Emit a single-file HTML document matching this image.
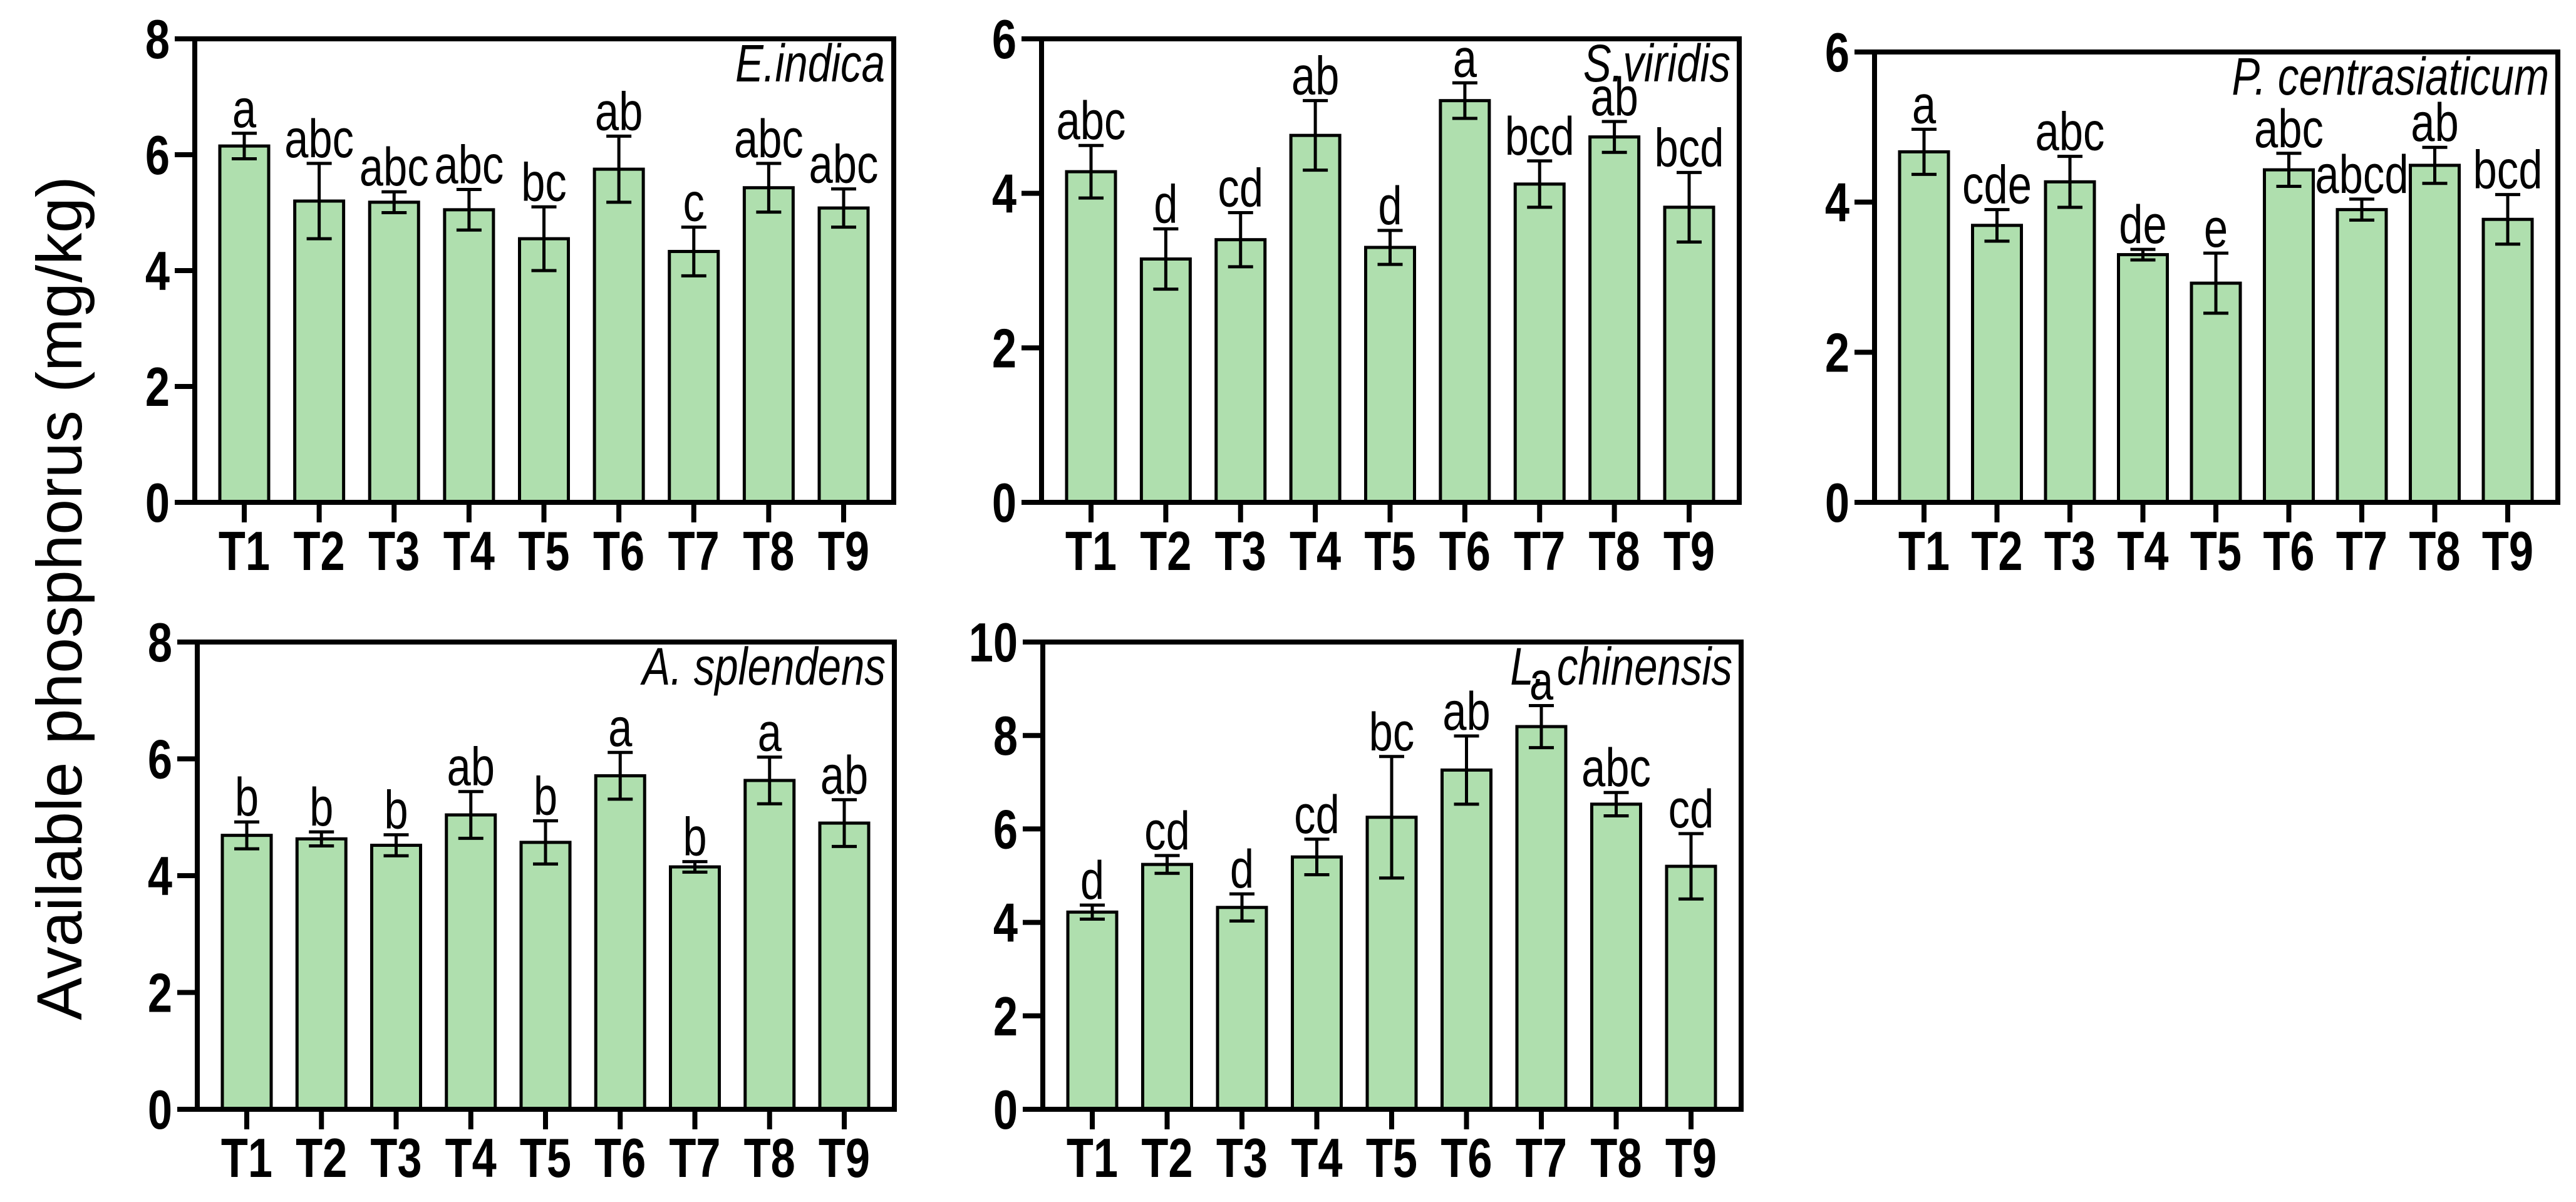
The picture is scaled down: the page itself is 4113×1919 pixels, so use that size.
<!DOCTYPE html>
<html><head><meta charset="utf-8">
<style>
html,body{margin:0;padding:0;background:#fff;}
svg{display:block;}
text{font-family:"Liberation Sans",Arial,sans-serif;}
</style></head>
<body>
<svg id="fig" width="4113" height="1919" viewBox="0 0 4113 1919" xmlns="http://www.w3.org/2000/svg">
<text x="0" y="0" transform="translate(130,955) rotate(-90)" text-anchor="middle" font-size="102">Available phosphorus (mg/kg)</text>
</svg>
<script>
const categories = ["T1","T2","T3","T4","T5","T6","T7","T8","T9"];
const eindicaMeans = [6.15,5.2,5.18,5.05,4.55,5.75,4.33,5.43,5.08];
const eindicaErr = [0.22,0.65,0.18,0.35,0.55,0.57,0.42,0.42,0.33];
const eindicaLetters = ["a","abc","abc","abc","bc","ab","c","abc","abc"];
const sviridisMeans = [4.28,3.15,3.40,4.75,3.30,5.2,4.12,4.73,3.82];
const sviridisErr = [0.34,0.39,0.35,0.45,0.22,0.23,0.3,0.2,0.45];
const sviridisLetters = ["abc","d","cd","ab","d","a","bcd","ab","bcd"];
const pcentMeans = [4.67,3.69,4.27,3.30,2.92,4.43,3.9,4.49,3.77];
const pcentErr = [0.3,0.21,0.34,0.07,0.4,0.22,0.14,0.24,0.33];
const pcentLetters = ["a","cde","abc","de","e","abc","abcd","ab","bcd"];
const asplMeans = [4.69,4.63,4.52,5.04,4.57,5.71,4.15,5.63,4.9];
const asplErr = [0.23,0.12,0.18,0.4,0.37,0.4,0.09,0.4,0.4];
const asplLetters = ["b","b","b","ab","b","a","b","a","ab"];
const lchinMeans = [4.22,5.24,4.32,5.40,6.25,7.26,8.19,6.53,5.2];
const lchinErr = [0.15,0.19,0.29,0.38,1.3,0.73,0.45,0.25,0.7];
const lchinLetters = ["d","cd","d","cd","bc","ab","a","abc","cd"];
const ticks8 = [0,2,4,6,8];
const ticks6 = [0,2,4,6];
const ticks10 = [0,2,4,6,8,10];

const NS = "http://www.w3.org/2000/svg";
const svg = document.getElementById("fig");
const SX = 0.8;
function mk(tag, attrs, parent){
  const e = document.createElementNS(NS, tag);
  for (const k in attrs) e.setAttribute(k, attrs[k]);
  (parent||svg).appendChild(e);
  return e;
}
function txt(parent, x, y, str, anchor, size, extra){
  const a = {x: 0, y: 0, transform: `translate(${x},${y}) scale(${SX},1)`, "text-anchor": anchor, "font-size": size};
  for (const k in extra) a[k] = extra[k];
  const t = mk("text", a, parent);
  t.textContent = str;
  return t;
}
function panel(id, L, R, T, B, ymax, ticks, means, errs, letters, species){
  const g = mk("g", {});
  
  
  const y = v => B - (v / ymax) * (B - T);
  const first = L + 79, last = R - 80, step = (last - first) / (categories.length - 1);
  const x = i => first + i * step;
  const bw = 78;
  means.forEach((m, i) => {
    const r = mk("rect", {x: x(i) - bw/2, y: y(m), width: bw, height: B - y(m), fill: "#afdfae", stroke: "#000", "stroke-width": 5}, g);
    
    
    const top = y(m + errs[i]), bot = y(m - errs[i]);
    const eb = mk("path", {d: `M${x(i)},${top}V${bot}M${x(i)-20},${top}H${x(i)+20}M${x(i)-20},${bot}H${x(i)+20}`, stroke: "#000", "stroke-width": 5, fill: "none"}, g);
    
    
    const t = txt(g, x(i), top - 10, letters[i], "middle", 86, {});
    
    
    const tk = mk("line", {x1: x(i), x2: x(i), y1: B, y2: B + 32, stroke: "#000", "stroke-width": 8}, g);
    
    
    const xl = txt(g, x(i), B + 108, categories[i], "middle", 88, {"font-weight": "bold"});
    
    
  });
  ticks.forEach(v => {
    const tk = mk("line", {x1: L - 32, x2: L, y1: y(v), y2: y(v), stroke: "#000", "stroke-width": 8}, g);
    
    
    const yl = txt(g, L - 40, y(v) + 31, String(v), "end", 88, {"font-weight": "bold"});
    
    
  });
  const box = mk("path", {d: `M${L-32},${T}H${R}V${B}H${L-32}M${L},${T}V${B}`, stroke: "#000", "stroke-width": 8, fill: "none"}, g);
  
  
  const sp = txt(g, R - 14, T + 68, species, "end", 84, {"font-style": "italic"});
  
  
}
panel("e-indica", 311, 1427, 62, 802, 8, ticks8, eindicaMeans, eindicaErr, eindicaLetters, "E.indica");
panel("s-viridis", 1663, 2777, 62, 802, 6, ticks6, sviridisMeans, sviridisErr, sviridisLetters, "S.viridis");
panel("p-centrasiaticum", 2993, 4084, 83, 802, 6, ticks6, pcentMeans, pcentErr, pcentLetters, "P. centrasiaticum");
panel("a-splendens", 315, 1428, 1025, 1771, 8, ticks8, asplMeans, asplErr, asplLetters, "A. splendens");
panel("l-chinensis", 1665, 2780, 1025, 1771, 10, ticks10, lchinMeans, lchinErr, lchinLetters, "L. chinensis");
</script>
</body></html>
